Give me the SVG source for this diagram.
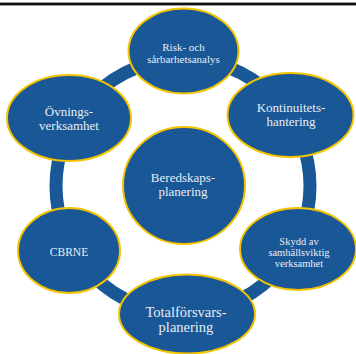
<svg xmlns="http://www.w3.org/2000/svg" width="356" height="354" viewBox="0 0 356 354">
<style>
.n{fill:#1a5796;stroke:#f3c300;stroke-width:2}
.t{fill:#e6edf5;font-family:"Liberation Serif","DejaVu Serif",serif;text-anchor:middle}
</style>
<rect width="356" height="354" fill="#fff"/>
<rect x="0" y="2" width="356" height="1" fill="#9a9a9a"/>
<rect x="0" y="3" width="356" height="2.4" fill="#111"/>
<g id="connectors">
<circle cx="183" cy="186" r="127" fill="none" stroke="#1a5796" stroke-width="13"/>
</g>
<g id="risk">
<ellipse class="n" cx="183.5" cy="51" rx="55" ry="42.5"/>
<text class="t" font-size="11" x="183.5" y="51">Risk- och</text>
<text class="t" font-size="11" x="183.5" y="63">sårbarhetsanalys</text>
</g>
<g id="kontinuitet">
<ellipse class="n" cx="290.5" cy="115" rx="63" ry="42"/>
<text class="t" font-size="13" x="291" y="112">Kontinuitets-</text>
<text class="t" font-size="13" x="291" y="126">hantering</text>
</g>
<g id="ovning">
<ellipse class="n" cx="69" cy="118" rx="62" ry="43"/>
<text class="t" font-size="13" x="69" y="116">Övnings-</text>
<text class="t" font-size="13" x="69" y="130">verksamhet</text>
</g>
<g id="beredskap">
<ellipse class="n" cx="184" cy="185.5" rx="61" ry="58.5"/>
<text class="t" font-size="13" x="183" y="182">Beredskaps-</text>
<text class="t" font-size="13" x="183" y="196">planering</text>
</g>
<g id="cbrne">
<ellipse class="n" cx="69" cy="250.5" rx="51" ry="42.5"/>
<text class="t" font-size="11.5" x="69" y="256">CBRNE</text>
</g>
<g id="skydd">
<ellipse class="n" cx="298" cy="249" rx="58" ry="41"/>
<text class="t" font-size="10.5" x="299" y="245">Skydd av</text>
<text class="t" font-size="10.5" x="299" y="256">samhällsviktig</text>
<text class="t" font-size="10.5" x="299" y="267">verksamhet</text>
</g>
<g id="totalforsvar">
<ellipse class="n" cx="187" cy="314" rx="68" ry="39.5"/>
<text class="t" font-size="14.5" x="186" y="317">Totalförsvars-</text>
<text class="t" font-size="14.5" x="186" y="332">planering</text>
</g>
</svg>
